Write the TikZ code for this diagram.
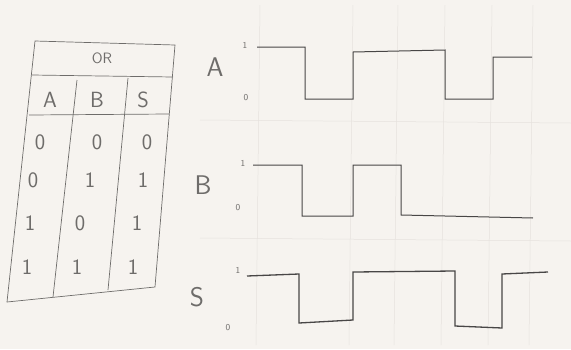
\documentclass[tikz,border=0pt]{standalone}
\usetikzlibrary{positioning}
\definecolor{paper}{RGB}{246,243,239}
\definecolor{pencil}{RGB}{110,108,106}
\definecolor{lead}{RGB}{72,70,70}
\definecolor{gridline}{RGB}{230,226,222}
\tikzset{
  pencil/.style={draw=pencil,line width=0.7pt},
  wave/.style={draw=lead,line width=1.3pt,line join=miter},
  faint/.style={draw=gridline,line width=0.5pt},
  big/.style={text=pencil,font=\sffamily\fontsize{27}{27}\selectfont},
  digit/.style={text=pencil,font=\sffamily\fontsize{22}{22}\selectfont},
  level/.style={text=pencil,font=\sffamily\fontsize{9}{9}\selectfont}
}
\begin{document}
\begin{tikzpicture}[x=1pt,y=-1pt]
      \fill[paper] (0,0) rectangle (571,349);
      \useasboundingbox (0,0) rectangle (571,349);
      % faint paper grid
      \foreach \gx in {260,353,398,445,492,533} \draw[faint] (\gx,5) -- (\gx-4,345);
      \foreach \gy in {120,238} \draw[faint] (200,\gy) -- (571,\gy+3);
      % table
      \draw[pencil] (35,41) -- (175,45) -- (155,287) -- (7,302) -- cycle;
      \draw[pencil] (32,75) -- (173,77);
      \draw[pencil] (29,115) -- (169,114);
      \draw[pencil] (77,80) -- (53,297);
      \draw[pencil] (128,78) -- (108,290);
      \node[text=pencil,font=\sffamily\fontsize{15}{15}\selectfont] (or) at (102,58) {OR};
      \node[digit] (ha) at (50,100) {A};
      \node[digit] (hb) at (97,100) {B};
      \node[digit] (hs) at (143,100) {S};
      \node[digit] (a1) at (40,142) {0};  \node[digit] (b1) at (97,142) {0};  \node[digit] (s1) at (147,142) {0};
      \node[digit] (a2) at (33,180) {0};  \node[digit] (b2) at (90,180) {1};  \node[digit] (s2) at (143,180) {1};
      \node[digit] (a3) at (30,223) {1};  \node[digit] (b3) at (80,223) {0};  \node[digit] (s3) at (137,223) {1};
      \node[digit] (a4) at (27,267) {1};  \node[digit] (b4) at (77,267) {1};  \node[digit] (s4) at (133,267) {1};
      % signal A
      \node[big] (la) at (215,67) {A};
      \node[level] (a1lv) at (245,45) {1};
      \node[level] (a0lv) at (246,98) {0};
      \draw[wave,line width=1pt] (257,47) -- (305,47) -- (305,99) -- (353,99) -- (353,52)
            -- (445,50) -- (445,99) -- (493,99) -- (493,57) -- (532,57);
      % signal B
      \node[big] (lb) at (203,185) {B};
      \node[level] (b1lv) at (243,163) {1};
      \node[level] (b0lv) at (238,208) {0};
      \draw[wave,line width=1pt] (253,165) -- (302,165) -- (302,216) -- (353,216) -- (353,165)
            -- (401,165) -- (401,215) -- (533,218);
      % signal S
      \node[big] (ls) at (197,297) {S};
      \node[level] (s1lv) at (238,270) {1};
      \node[level] (s0lv) at (228,328) {0};
      \draw[wave] (247,276) -- (299,274) -- (299,323) -- (353,320) -- (353,272)
            -- (455,271) -- (455,326) -- (502,328) -- (502,274) -- (548,272);
    \end{tikzpicture}
\end{document}
